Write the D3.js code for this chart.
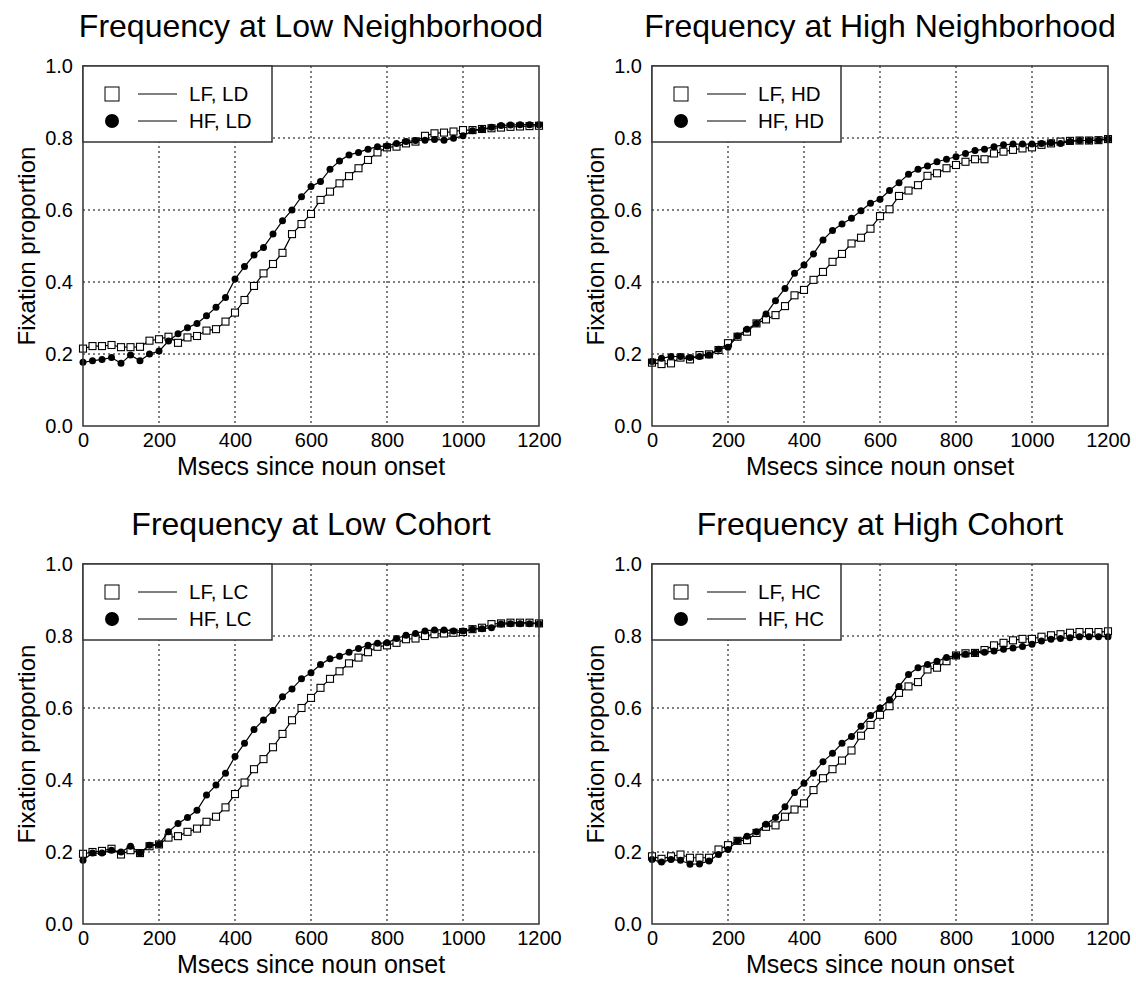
<!DOCTYPE html>
<html>
<head>
<meta charset="utf-8">
<script src="https://cdn.jsdelivr.net/npm/d3@7"></script>
<style>
  body { margin: 0; background: #fff; }
  svg { font-family: "Liberation Sans", Arial, Helvetica, sans-serif; }
  .grid line { stroke: #000; stroke-width: 1; stroke-dasharray: 2,3; }
  .axis path { display: none; }
  .axis text { font-size: 20px; fill: #000; }
</style>
</head>
<body>
<svg id="chart" width="1136" height="981"></svg>
<script>
// time points (ms since noun onset)
var times = [0, 25, 50, 75, 100, 125, 150, 175, 200, 225, 250, 275, 300, 325, 350, 375, 400,
  425, 450, 475, 500, 525, 550, 575, 600, 625, 650, 675, 700, 725, 750, 775, 800,
  825, 850, 875, 900, 925, 950, 975, 1000, 1025, 1050, 1075, 1100, 1125, 1150, 1175, 1200];

var xTicks = [0, 200, 400, 600, 800, 1000, 1200];
var yTicks = [0, 0.2, 0.4, 0.6, 0.8, 1.0];

var titles = ['Frequency at Low Neighborhood', 'Frequency at High Neighborhood',
  'Frequency at Low Cohort', 'Frequency at High Cohort'];
var lfLabels = ['LF, LD', 'LF, HD', 'LF, LC', 'LF, HC'];
var hfLabels = ['HF, LD', 'HF, HD', 'HF, LC', 'HF, HC'];

// low neighborhood
var lowNbLF = [0.215, 0.222, 0.222, 0.225, 0.219, 0.219, 0.220, 0.237, 0.241, 0.248, 0.231, 0.246, 0.250,
  0.265, 0.269, 0.290, 0.315, 0.350, 0.389, 0.424, 0.450, 0.481, 0.533, 0.561, 0.589, 0.628, 0.651,
  0.674, 0.694, 0.716, 0.739, 0.760, 0.774, 0.776, 0.785, 0.790, 0.806, 0.813, 0.815, 0.818, 0.822,
  0.822, 0.825, 0.827, 0.829, 0.831, 0.832, 0.833, 0.834];
var lowNbHF = [0.177, 0.181, 0.185, 0.190, 0.174, 0.197, 0.181, 0.200, 0.208, 0.236, 0.256, 0.273, 0.285,
  0.306, 0.330, 0.357, 0.408, 0.443, 0.475, 0.496, 0.533, 0.570, 0.600, 0.637, 0.665, 0.679, 0.713,
  0.736, 0.753, 0.760, 0.769, 0.776, 0.778, 0.785, 0.790, 0.793, 0.794, 0.796, 0.794, 0.799, 0.806,
  0.820, 0.824, 0.830, 0.835, 0.836, 0.837, 0.837, 0.837];

// high neighborhood
var highNbLF = [0.176, 0.172, 0.174, 0.190, 0.185, 0.197, 0.199, 0.211, 0.230, 0.248, 0.262, 0.285, 0.296,
  0.308, 0.333, 0.363, 0.378, 0.406, 0.428, 0.456, 0.478, 0.507, 0.523, 0.548, 0.583, 0.602, 0.639,
  0.654, 0.669, 0.695, 0.702, 0.716, 0.725, 0.734, 0.741, 0.741, 0.757, 0.762, 0.767, 0.771, 0.774,
  0.781, 0.785, 0.790, 0.792, 0.793, 0.793, 0.794, 0.797];
var highNbHF = [0.179, 0.188, 0.193, 0.193, 0.190, 0.193, 0.197, 0.213, 0.219, 0.250, 0.269, 0.285, 0.311,
  0.348, 0.382, 0.424, 0.447, 0.478, 0.517, 0.543, 0.561, 0.577, 0.598, 0.619, 0.630, 0.654, 0.676,
  0.699, 0.713, 0.722, 0.734, 0.741, 0.748, 0.757, 0.765, 0.769, 0.776, 0.781, 0.783, 0.783, 0.783,
  0.785, 0.787, 0.785, 0.790, 0.793, 0.793, 0.794, 0.797];

// low cohort
var lowCohLF = [0.195, 0.200, 0.203, 0.209, 0.193, 0.205, 0.197, 0.216, 0.221, 0.240, 0.244, 0.256, 0.265,
  0.284, 0.298, 0.324, 0.361, 0.393, 0.430, 0.458, 0.491, 0.528, 0.566, 0.600, 0.628, 0.656, 0.681,
  0.702, 0.724, 0.740, 0.755, 0.770, 0.774, 0.781, 0.791, 0.793, 0.800, 0.805, 0.807, 0.809, 0.811,
  0.819, 0.823, 0.833, 0.835, 0.837, 0.837, 0.837, 0.835];
var lowCohHF = [0.177, 0.197, 0.197, 0.205, 0.200, 0.216, 0.197, 0.219, 0.221, 0.256, 0.279, 0.296, 0.316,
  0.358, 0.386, 0.419, 0.465, 0.502, 0.540, 0.567, 0.593, 0.631, 0.653, 0.681, 0.698, 0.721, 0.737,
  0.744, 0.755, 0.765, 0.774, 0.780, 0.781, 0.793, 0.802, 0.807, 0.814, 0.817, 0.817, 0.814, 0.814,
  0.819, 0.820, 0.823, 0.833, 0.834, 0.834, 0.834, 0.834];

// high cohort
var highCohLF = [0.188, 0.181, 0.188, 0.193, 0.184, 0.184, 0.184, 0.207, 0.219, 0.231, 0.233, 0.253, 0.270,
  0.274, 0.298, 0.318, 0.335, 0.372, 0.405, 0.430, 0.454, 0.482, 0.523, 0.553, 0.581, 0.605, 0.642,
  0.660, 0.672, 0.707, 0.712, 0.730, 0.746, 0.752, 0.753, 0.761, 0.774, 0.781, 0.788, 0.792, 0.792,
  0.798, 0.802, 0.805, 0.809, 0.811, 0.811, 0.811, 0.813];
var highCohHF = [0.179, 0.172, 0.179, 0.177, 0.166, 0.167, 0.175, 0.193, 0.207, 0.231, 0.244, 0.256, 0.277,
  0.296, 0.326, 0.365, 0.391, 0.419, 0.451, 0.474, 0.502, 0.521, 0.549, 0.579, 0.600, 0.623, 0.660,
  0.693, 0.712, 0.721, 0.730, 0.740, 0.746, 0.749, 0.753, 0.755, 0.758, 0.763, 0.767, 0.771, 0.777,
  0.786, 0.791, 0.793, 0.795, 0.798, 0.798, 0.798, 0.798];

var lfSeries = [lowNbLF, highNbLF, lowCohLF, highCohLF];
var hfSeries = [lowNbHF, highNbHF, lowCohHF, highCohHF];

var plotW = 456, plotH = 360;
var origins = [[83, 66], [652, 66], [83, 564], [652, 564]];

var svg = d3.select('#chart');

var x = d3.scaleLinear().domain([0, 1200]).range([0, plotW]);
var y = d3.scaleLinear().domain([0, 1]).range([plotH, 0]);

var line = d3.line()
  .x(function(d) { return x(d[0]); })
  .y(function(d) { return y(d[1]); });

function drawPanel(i) {
  var g = svg.append('g')
    .attr('transform', 'translate(' + origins[i][0] + ',' + origins[i][1] + ')');

  // grid
  var grid = g.append('g').attr('class', 'grid');
  grid.selectAll('.vx')
    .data(xTicks.slice(1, -1))
    .enter().append('line')
    .attr('x1', function(d) { return x(d); })
    .attr('x2', function(d) { return x(d); })
    .attr('y1', 0).attr('y2', plotH);
  grid.selectAll('.hy')
    .data(yTicks.slice(1, -1))
    .enter().append('line')
    .attr('y1', function(d) { return y(d); })
    .attr('y2', function(d) { return y(d); })
    .attr('x1', 0).attr('x2', plotW);

  // axes (labels only)
  g.append('g').attr('class', 'axis')
    .attr('transform', 'translate(0,' + plotH + ')')
    .call(d3.axisBottom(x).tickValues(xTicks).tickSize(0).tickPadding(7).tickFormat(d3.format('d')));
  g.append('g').attr('class', 'axis')
    .call(d3.axisLeft(y).tickValues(yTicks).tickSize(0).tickPadding(10).tickFormat(d3.format('.1f')));

  var lf = times.map(function(t, k) { return [t, lfSeries[i][k]]; });
  var hf = times.map(function(t, k) { return [t, hfSeries[i][k]]; });

  // LF: open squares
  g.append('path').datum(lf)
    .attr('d', line).attr('fill', 'none').attr('stroke', '#000').attr('stroke-width', 1.2);
  g.selectAll('.sq')
    .data(lf)
    .enter().append('rect')
    .attr('x', function(d) { return x(d[0]) - 3.5; })
    .attr('y', function(d) { return y(d[1]) - 3.5; })
    .attr('width', 7).attr('height', 7)
    .attr('fill', '#fff').attr('stroke', '#000').attr('stroke-width', 1.1);

  // HF: filled circles
  g.append('path').datum(hf)
    .attr('d', line).attr('fill', 'none').attr('stroke', '#000').attr('stroke-width', 1.2);
  g.selectAll('.ci')
    .data(hf)
    .enter().append('circle')
    .attr('cx', function(d) { return x(d[0]); })
    .attr('cy', function(d) { return y(d[1]); })
    .attr('r', 3.5)
    .attr('fill', '#000');

  // frame
  g.append('rect')
    .attr('width', plotW).attr('height', plotH)
    .attr('fill', 'none').attr('stroke', '#333').attr('stroke-width', 1.5);

  // legend
  var leg = g.append('g');
  leg.append('rect')
    .attr('width', 189).attr('height', 76)
    .attr('fill', '#fff').attr('stroke', '#333').attr('stroke-width', 1.5);
  leg.append('rect')
    .attr('x', 22).attr('y', 21).attr('width', 14).attr('height', 14)
    .attr('fill', '#fff').attr('stroke', '#000').attr('stroke-width', 1);
  leg.append('circle')
    .attr('cx', 29).attr('cy', 55).attr('r', 7).attr('fill', '#000');
  [28, 55].forEach(function(ly) {
    leg.append('line')
      .attr('x1', 55).attr('x2', 94).attr('y1', ly).attr('y2', ly)
      .attr('stroke', '#000').attr('stroke-width', 1);
  });
  leg.append('text').attr('x', 106).attr('y', 35).attr('font-size', 20.5).text(lfLabels[i]);
  leg.append('text').attr('x', 106).attr('y', 62).attr('font-size', 20.5).text(hfLabels[i]);

  // titles
  g.append('text')
    .attr('x', plotW / 2).attr('y', -29)
    .attr('text-anchor', 'middle').attr('font-size', 32)
    .text(titles[i]);
  g.append('text')
    .attr('x', plotW / 2).attr('y', plotH + 49)
    .attr('text-anchor', 'middle').attr('font-size', 25)
    .text('Msecs since noun onset');
  g.append('text')
    .attr('transform', 'translate(-48,' + plotH / 2 + ') rotate(-90)')
    .attr('text-anchor', 'middle').attr('font-size', 24)
    .text('Fixation proportion');
}

for (var i = 0; i < 4; i++) drawPanel(i);
</script>
</body>
</html>
